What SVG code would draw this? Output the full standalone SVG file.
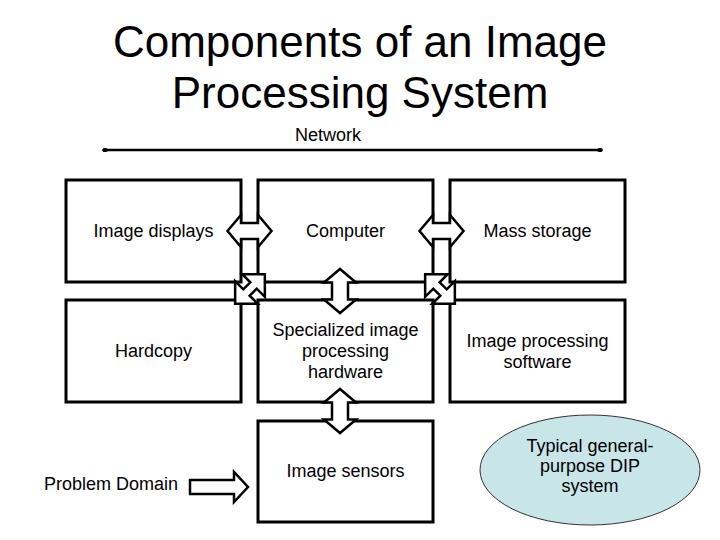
<svg xmlns="http://www.w3.org/2000/svg" width="720" height="540" viewBox="0 0 720 540">
<style>
text{font-family:"Liberation Sans",Arial,sans-serif;fill:#000;text-anchor:middle}
.t{font-size:18px}
.title{font-size:44px}
.box{fill:#fff;stroke:#000;stroke-width:3}
.arr{fill:#fff;stroke:#000;stroke-width:2.5;stroke-linejoin:miter}
</style>
<defs>
<path id="dbl" d="M-22,0 L-8.5,-16 L-8.5,-8 L8.5,-8 L8.5,-16 L22,0 L8.5,16 L8.5,8 L-8.5,8 L-8.5,16 Z"/>
<path id="ddiag" d="M-21,0 L-5,-16 L-5,-4.5 L5,-4.5 L5,-16 L21,0 L5,16 L5,4.5 L-5,4.5 L-5,16 Z"/>
<marker id="dot" viewBox="-3 -3 6 6" markerWidth="6" markerHeight="6" refX="0" refY="0" markerUnits="userSpaceOnUse" orient="auto">
<ellipse cx="0" cy="0" rx="2.8" ry="2" fill="#000"/>
</marker>
</defs>
<rect width="720" height="540" fill="#fff"/>
<text class="title" x="360" y="57">Components of an Image</text>
<text class="title" x="360" y="108">Processing System</text>
<text class="t" x="328" y="141">Network</text>
<g id="nodes">
<g id="n-displays"><rect class="box" x="66" y="180" width="175" height="102"/><text class="t" x="153.5" y="237">Image displays</text></g>
<g id="n-computer"><rect class="box" x="258" y="180" width="175" height="102"/><text class="t" x="345.5" y="237">Computer</text></g>
<g id="n-storage"><rect class="box" x="450" y="180" width="175" height="102"/><text class="t" x="537.5" y="237">Mass storage</text></g>
<g id="n-hardcopy"><rect class="box" x="66" y="300" width="175" height="102"/><text class="t" x="153.5" y="357">Hardcopy</text></g>
<g id="n-specialized"><rect class="box" x="258" y="300" width="175" height="102"/><text class="t" x="345.5" y="336">Specialized image</text><text class="t" x="345.5" y="357">processing</text><text class="t" x="345.5" y="378">hardware</text></g>
<g id="n-software"><rect class="box" x="450" y="300" width="175" height="102"/><text class="t" x="537.5" y="347">Image processing</text><text class="t" x="537.5" y="368">software</text></g>
<g id="n-sensors"><rect class="box" x="258" y="421" width="175" height="101"/><text class="t" x="345.5" y="477">Image sensors</text></g>
<g id="n-problem"><text class="t" x="111" y="490">Problem Domain</text></g>
<g id="n-dip"><ellipse cx="590" cy="470" rx="110" ry="55" fill="#c8e6e8" stroke="#333" stroke-width="1"/><text class="t" x="590" y="452">Typical general-</text><text class="t" x="590" y="472">purpose DIP</text><text class="t" x="590" y="492">system</text></g>
</g>
<g id="connectors">
<line x1="105" y1="150" x2="600" y2="150" stroke="#000" stroke-width="2.5" marker-start="url(#dot)" marker-end="url(#dot)"/>
<use href="#dbl" class="arr" transform="translate(249.5,231)"/>
<use href="#dbl" class="arr" transform="translate(441.5,231)"/>
<use href="#dbl" class="arr" transform="translate(340,291) rotate(90)"/>
<use href="#dbl" class="arr" transform="translate(340,411) rotate(90)"/>
<use href="#ddiag" class="arr" transform="translate(250,289) rotate(-45)"/>
<use href="#ddiag" class="arr" transform="translate(440,289) rotate(45)"/>
<path class="arr" d="M190,480 L234,480 L234,472 L248,487 L234,502 L234,494 L190,494 Z"/>
</g>
</svg>
